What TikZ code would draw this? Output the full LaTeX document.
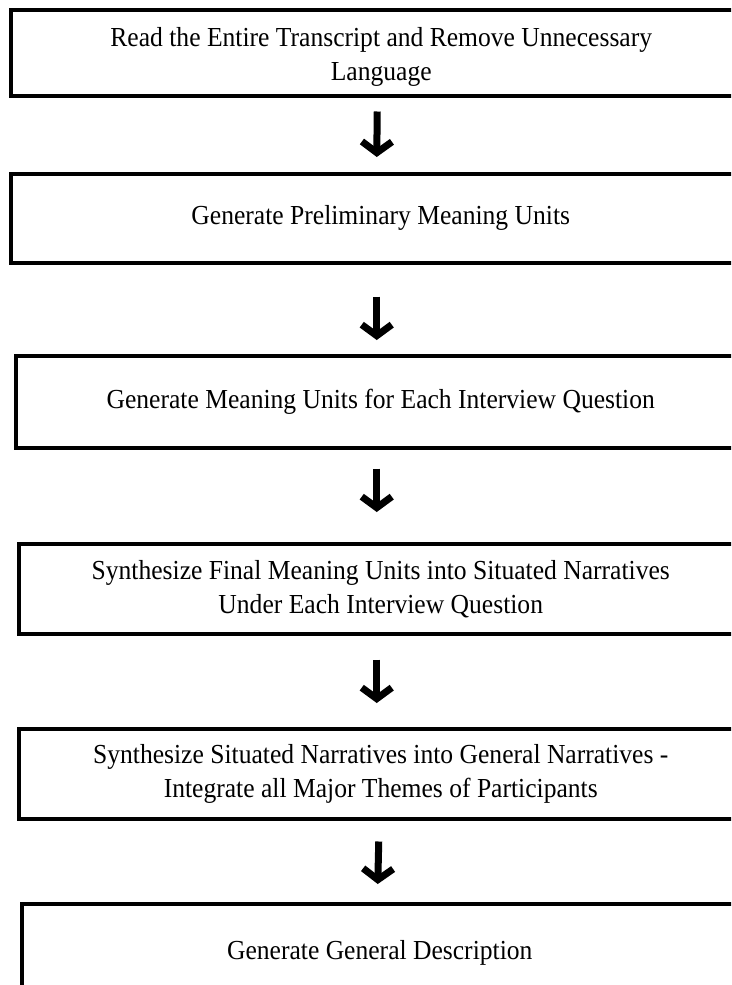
\documentclass[tikz,border=0pt]{standalone}
\usepackage{fontspec}
\setmainfont[FakeStretch=0.93]{Liberation Serif}
\usetikzlibrary{arrows.meta,calc}
\begin{document}
\begin{tikzpicture}[x=1pt,y=-1pt,
  stepbox/.style={draw=black, line width=3.5pt, rectangle, inner sep=0pt, anchor=north west, align=center, font=\fontsize{27.5}{34}\selectfont},
  flow/.style={line width=7pt, -{Straight Barb[length=11pt,width=30pt]}}]
\useasboundingbox (0,0) rectangle (731,985);
\clip (0,0) rectangle (731,985);
\node[stepbox, minimum width=741, minimum height=86, label={[font=\fontsize{27.5}{34}\selectfont, align=center, yshift=-4pt]center:Read the Entire Transcript and Remove Unnecessary\\Language}] (b1) at (9,8) {};
\node[stepbox, minimum width=740, minimum height=89] (b2) at (9,172) {Generate Preliminary Meaning Units};
\node[stepbox, minimum width=730, minimum height=92] (b3) at (14,354) {Generate Meaning Units for Each Interview Question};
\node[stepbox, minimum width=724, minimum height=90] (b4) at (17,542) {Synthesize Final Meaning Units into Situated Narratives\\Under Each Interview Question};
\node[stepbox, minimum width=724, minimum height=90] (b5) at (17,727) {Synthesize Situated Narratives into General Narratives -\\Integrate all Major Themes of Participants};
\node[stepbox, minimum width=716, minimum height=99] (b6) at (20,902) {Generate General Description};
\draw[flow] ($(b1.south)+(-4,14)$) -- ($(b2.north)+(-4,-15)$);
\draw[flow] ($(b2.south)+(-4,32)$) -- ($(b3.north)+(-4,-14)$);
\draw[flow] ($(b3.south)+(-4,19)$) -- ($(b4.north)+(-4,-30)$);
\draw[flow] ($(b4.south)+(-4,24)$) -- ($(b5.north)+(-4,-24)$);
\draw[flow] ($(b5.south)+(-2,21)$) -- ($(b6.north)+(-2,-18)$);
\end{tikzpicture}
\end{document}
